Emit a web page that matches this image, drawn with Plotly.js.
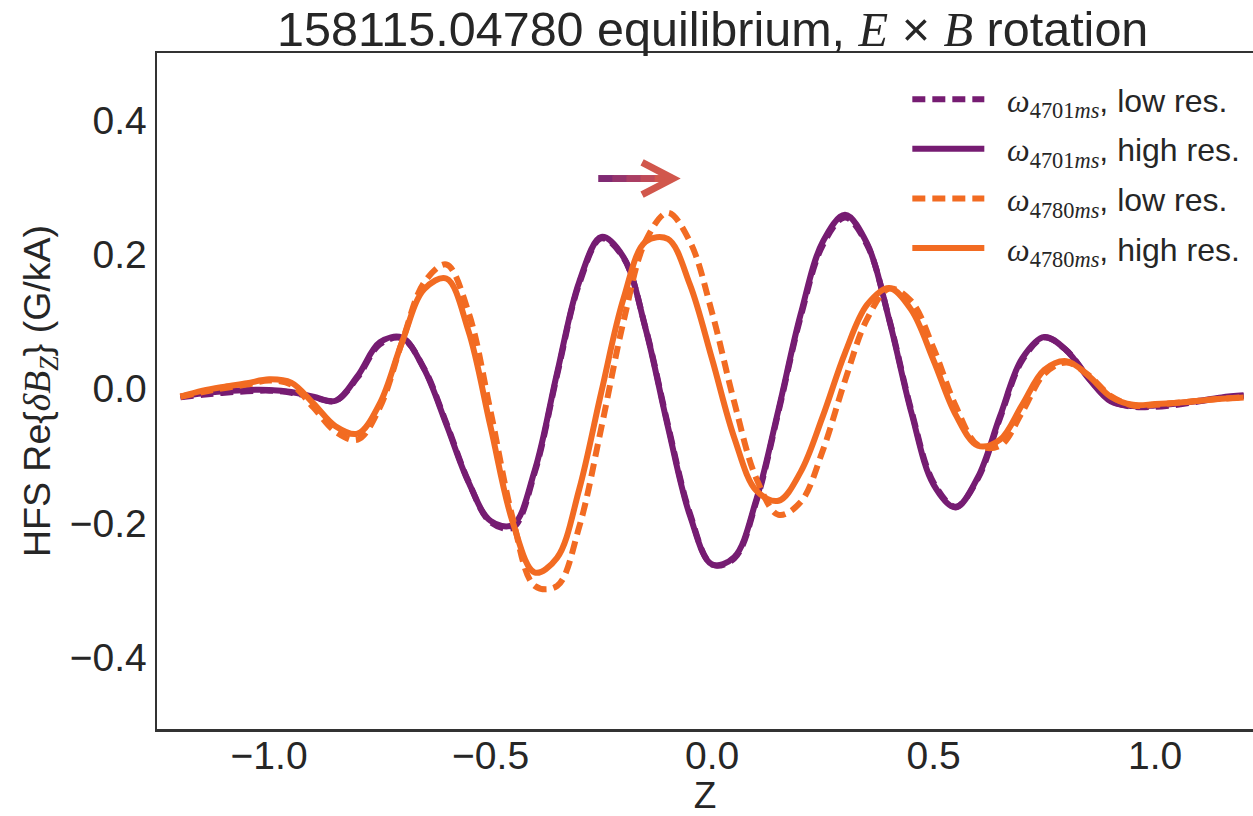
<!DOCTYPE html>
<html>
<head>
<meta charset="utf-8">
<script src="https://cdn.plot.ly/plotly-3.0.1.min.js"></script>
<style>html,body{margin:0;padding:0;background:#fff;}#chart{width:1253px;height:816px;}</style>
</head>
<body>
<div id="chart"></div>
<script>
// Z grid (shared by all series)
const zValues = [-1.20,-1.15,-1.10,-1.05,-1.00,-0.95,-0.90,-0.85,-0.80,-0.75,-0.70,-0.65,-0.60,-0.55,-0.50,-0.45,-0.40,-0.35,-0.30,-0.25,-0.20,-0.15,-0.10,-0.05,0.00,0.05,0.10,0.15,0.20,0.25,0.30,0.35,0.40,0.45,0.50,0.55,0.60,0.65,0.70,0.75,0.80,0.85,0.90,0.95,1.00,1.05,1.10,1.15,1.20];

const purpleLow = [-0.013,-0.009,-0.006,-0.004,-0.003,-0.006,-0.013,-0.018,0.017,0.066,0.075,0.030,-0.051,-0.138,-0.199,-0.207,-0.124,0.020,0.156,0.224,0.195,0.090,-0.053,-0.186,-0.262,-0.253,-0.168,-0.034,0.107,0.214,0.255,0.214,0.103,-0.033,-0.140,-0.176,-0.134,-0.044,0.042,0.076,0.057,0.016,-0.018,-0.027,-0.027,-0.024,-0.019,-0.014,-0.011];

const purpleHigh = [-0.012,-0.007,-0.004,-0.002,-0.002,-0.005,-0.012,-0.018,0.019,0.069,0.076,0.029,-0.053,-0.139,-0.197,-0.203,-0.121,0.023,0.159,0.226,0.196,0.089,-0.056,-0.189,-0.262,-0.251,-0.165,-0.031,0.111,0.219,0.259,0.216,0.102,-0.036,-0.143,-0.177,-0.132,-0.041,0.045,0.077,0.057,0.015,-0.019,-0.026,-0.025,-0.022,-0.018,-0.013,-0.010];

const orangeLow = [-0.012,-0.005,0.001,0.006,0.012,0.006,-0.028,-0.064,-0.076,-0.028,0.069,0.158,0.185,0.114,-0.034,-0.193,-0.294,-0.294,-0.206,-0.058,0.100,0.220,0.262,0.219,0.113,-0.020,-0.134,-0.188,-0.169,-0.092,0.012,0.104,0.149,0.130,0.060,-0.026,-0.084,-0.085,-0.035,0.022,0.039,0.020,-0.011,-0.025,-0.024,-0.021,-0.018,-0.015,-0.013];

const orangeHigh = [-0.012,-0.003,0.003,0.008,0.014,0.009,-0.022,-0.056,-0.067,-0.022,0.069,0.148,0.164,0.086,-0.057,-0.199,-0.274,-0.252,-0.150,-0.005,0.134,0.219,0.223,0.155,0.044,-0.073,-0.152,-0.167,-0.124,-0.041,0.053,0.125,0.150,0.117,0.042,-0.039,-0.085,-0.076,-0.024,0.028,0.041,0.019,-0.012,-0.024,-0.023,-0.021,-0.018,-0.015,-0.013];

const seriesNames = [
  "\u00a0\u00a0<span style=\"font-family:'Liberation Serif'\"><i>ω</i><sub>4701<i>ms</i></sub></span>, low res.",
  "\u00a0\u00a0<span style=\"font-family:'Liberation Serif'\"><i>ω</i><sub>4701<i>ms</i></sub></span>, high res.",
  "\u00a0\u00a0<span style=\"font-family:'Liberation Serif'\"><i>ω</i><sub>4780<i>ms</i></sub></span>, low res.",
  "\u00a0\u00a0<span style=\"font-family:'Liberation Serif'\"><i>ω</i><sub>4780<i>ms</i></sub></span>, high res."
];
const yTickVals = [-0.4,-0.2,0.0,0.2,0.4];
const xTickVals = [-1.0,-0.5,0.0,0.5,1.0];

// decorative arrow (data coords)
const arrowShaftZ = [-0.257,-0.098];
const arrowV = 0.313;
const arrowHeadZ = [-0.158,-0.088,-0.158];
const arrowHeadV = [0.337,0.313,0.289];
const arrowColors = ["#7f2a73","#95346c","#aa3e63","#bf4a58","#d1574c"];

const PURPLE = "#761c72";
const ORANGE = "#f26b22";
const DASH = "13px,7px";

const traces = [
  {x: zValues, y: purpleLow, name: seriesNames[0], legendgroup: "a", mode: "lines", line: {color: PURPLE, width: 6, dash: DASH, shape: "spline"}},
  {x: zValues, y: purpleHigh, name: seriesNames[1], legendgroup: "b", mode: "lines", line: {color: PURPLE, width: 6, shape: "spline"}},
  {x: zValues, y: orangeLow, name: seriesNames[2], legendgroup: "c", mode: "lines", line: {color: ORANGE, width: 6, dash: DASH, shape: "spline"}},
  {x: zValues, y: orangeHigh, name: seriesNames[3], legendgroup: "d", mode: "lines", line: {color: ORANGE, width: 6, shape: "spline"}}
];

const shapes = [];
const nSeg = arrowColors.length;
for (let i = 0; i < nSeg; i++) {
  const z0 = arrowShaftZ[0] + (arrowShaftZ[1]-arrowShaftZ[0]) * i / nSeg;
  const z1 = arrowShaftZ[0] + (arrowShaftZ[1]-arrowShaftZ[0]) * (i+1) / nSeg;
  shapes.push({type: "line", xref: "x", yref: "y", x0: z0, x1: z1 + 0.004, y0: arrowV, y1: arrowV, line: {color: arrowColors[i], width: 7}});
}
shapes.push({type: "path", xref: "x", yref: "y",
  path: "M" + arrowHeadZ[0] + "," + arrowHeadV[0] + " L" + arrowHeadZ[1] + "," + arrowHeadV[1] + " L" + arrowHeadZ[2] + "," + arrowHeadV[2],
  line: {color: arrowColors[nSeg-1], width: 7}});

const layout = {
  width: 1253, height: 816,
  margin: {l: 157, r: 0, t: 53, b: 87},
  paper_bgcolor: "#ffffff", plot_bgcolor: "#ffffff",
  font: {family: "Liberation Sans, Arial, sans-serif", color: "#262626", size: 30},
  title: {text: "158115.04780 equilibrium, <span style=\"font-family:'Liberation Serif'\"><i>E</i></span> × <span style=\"font-family:'Liberation Serif'\"><i>B</i></span> rotation",
          font: {size: 48.5, color: "#262626"}, x: 0.507, xref: "paper", xanchor: "center", y: 0.964, yanchor: "middle"},
  xaxis: {range: [-1.253, 1.221], tickvals: xTickVals, ticktext: ["−1.0","−0.5","0.0","0.5","1.0"],
          showgrid: false, zeroline: false, showline: true, mirror: true, linecolor: "#333333", linewidth: 2.5,
          ticks: "", tickfont: {size: 39, color: "#262626"}, ticklabelstandoff: -9,
          title: {text: "Z", font: {size: 37, color: "#262626"}, standoff: 17}},
  yaxis: {range: [-0.507, 0.5], tickvals: yTickVals, ticktext: ["−0.4","−0.2","0.0","0.2","0.4"],
          showgrid: false, zeroline: false, showline: true, mirror: false, linecolor: "#333333", linewidth: 2.5,
          ticks: "", tickfont: {size: 39, color: "#262626"}, ticklabelstandoff: 0,
          title: {text: "HFS Re{<span style=\"font-family:'Liberation Serif'\"><i>δB</i><sub><i>Z</i></sub></span>} (G/kA)", font: {size: 37.5, color: "#262626"}, standoff: 8}},
  legend: {x: 0.993, xanchor: "right", y: 0.972, yanchor: "top", bgcolor: "rgba(0,0,0,0)", borderwidth: 0,
           font: {size: 32, color: "#262626"}, itemwidth: 72, tracegroupgap: 5},
  showlegend: true,
  shapes: shapes
};

Plotly.newPlot("chart", traces, layout, {staticPlot: true, displayModeBar: false});
</script>
</body>
</html>
